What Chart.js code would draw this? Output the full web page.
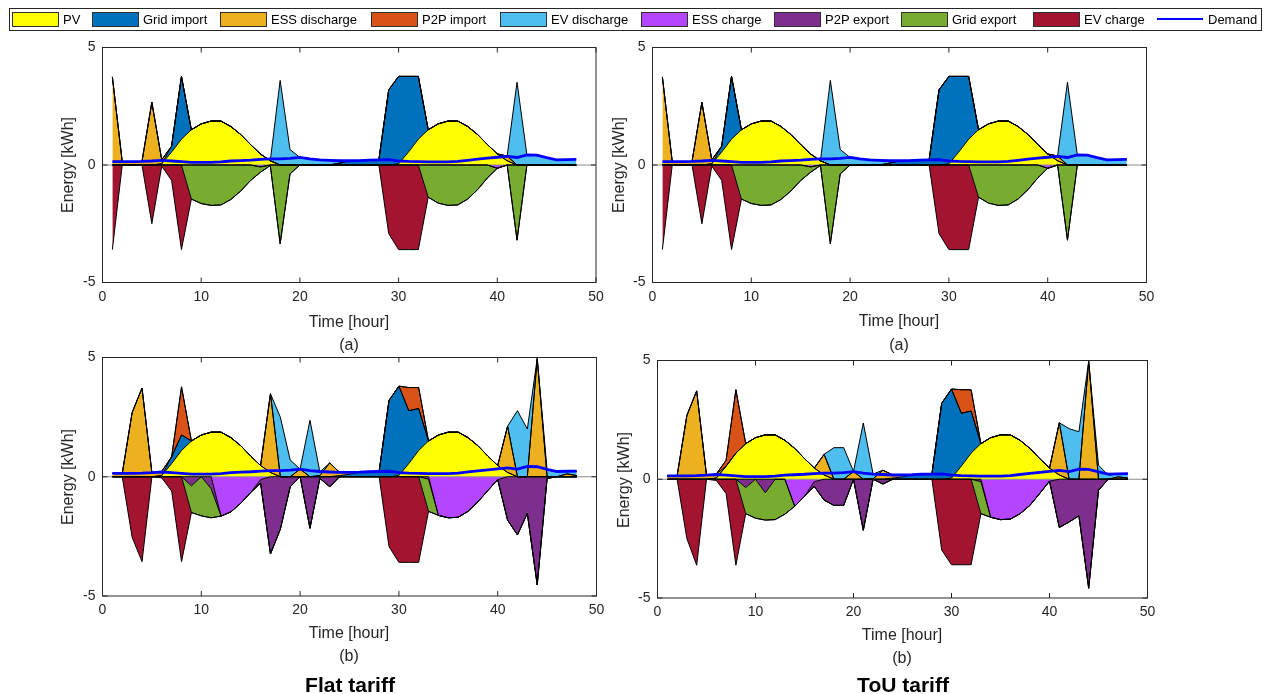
<!DOCTYPE html>
<html><head><meta charset="utf-8">
<script src="https://cdn.jsdelivr.net/npm/chart.js@4.4.1/dist/chart.umd.min.js"></script>
<style>
html,body{margin:0;padding:0;background:#fff}
body{width:1265px;height:694px;position:relative;overflow:hidden;font-family:"Liberation Sans",Arial,sans-serif;color:#262626}
canvas{position:absolute;left:0;top:0}
.t{position:absolute;white-space:nowrap;transform:translate(-50%,-50%);line-height:1}
.lg{position:absolute;left:9px;top:8px;width:1251px;height:21px;border:1px solid #262626;background:#fff}
.lp{position:absolute;top:12px;width:45px;height:13px;border:1px solid #303030}
.ll{position:absolute;top:11px;width:46px;height:0;border-top:2px solid #0000ff}
.lt{position:absolute;top:12px;font-size:13px;line-height:15px;color:#000}
</style></head><body>
<div class="lg"></div>
<canvas id="c0" width="1265" height="694"></canvas>
<canvas id="c1" width="1265" height="694"></canvas>
<canvas id="c2" width="1265" height="694"></canvas>
<canvas id="c3" width="1265" height="694"></canvas>
<script>
// ---------- DATA ----------
const hours = [1,2,3,4,5,6,7,8,9,10,11,12,13,14,15,16,17,18,19,20,21,22,23,24,25,26,27,28,29,30,31,32,33,34,35,36,37,38,39,40,41,42,43,44,45,46,47,48];
const xTicks = [0,10,20,30,40,50];
const yTicks = [-5,0,5];

const seriesNames = ['PV','Grid import','ESS discharge','P2P import','EV discharge','ESS charge','P2P export','Grid export','EV charge'];
const seriesColors = ['#ffff00','#0072bd','#edb120','#d95319','#4dbeee','#b446ff','#7e2f8e','#77ac30','#a2142f'];

const pv = [0,0,0,0,0,0.05,0.55,1.1,1.5,1.75,1.87,1.87, 1.64,1.3,0.87,0.47,0.18,0,0,0,0,0,0,0, 0,0,0,0,0,0.05,0.55,1.1,1.5,1.75,1.87,1.87, 1.64,1.3,0.87,0.47,0.18,0,0,0,0,0,0,0];
const demand = [0.14,0.14,0.14,0.15,0.17,0.2,0.17,0.14,0.11,0.11,0.11,0.13, 0.17,0.19,0.21,0.24,0.26,0.26,0.28,0.32,0.26,0.22,0.2,0.18, 0.18,0.19,0.21,0.22,0.23,0.17,0.15,0.14,0.13,0.13,0.13,0.15, 0.2,0.25,0.29,0.33,0.37,0.32,0.43,0.42,0.31,0.22,0.23,0.24];

// (a) case (both tariffs)
const gridImportA = [0,0,0,0,0,0,0.25,2.67,0,0,0,0, 0,0,0,0,0,0,0,0,0,0,0,0.08, 0.18,0.19,0.21,0.22,3.2,3.72,3.22,2.67,0,0,0,0, 0,0,0,0,0,0,0,0,0,0,0,0];
const essDischargeA = [3.75,0.14,0.14,0.15,2.67,0.17,0,0,0,0,0,0, 0,0,0,0,0,0,0,0,0,0,0,0, 0,0,0,0,0,0,0,0,0,0,0,0, 0,0,0,0,0.2,0,0,0,0,0,0,0];
const p2pImportA = [0,0,0,0,0,0,0,0,0,0,0,0, 0,0,0,0,0,0,0,0,0,0,0,0, 0,0,0,0,0,0,0,0,0,0,0,0, 0,0,0,0,0,0,0,0,0,0,0,0];
const evDischargeA = [0,0,0,0,0,0,0,0,0,0,0,0, 0,0,0,0,0,3.6,0.66,0.32,0.26,0.22,0.2,0.1, 0,0,0,0,0,0,0,0,0,0,0,0, 0,0,0,0,0,3.52,0.43,0.42,0.31,0.22,0.23,0.24];
const essChargeA = [0,0,0,0,0,0,0,0,0,0,0,0, 0,0,0,-0.08,0,0,0,0,0,0,0,0, 0,0,0,0,0,0,0,0,0,0,0,0, 0,0,0,-0.14,0,0,0,0,0,0,0,0];
const p2pExportA = [0,0,0,0,0,0,0,0,0,0,0,0, 0,0,0,0,0,0,0,0,0,0,0,0, 0,0,0,0,0,0,0,0,0,0,0,0, 0,0,0,0,0,0,0,0,0,0,0,0];
const gridExportA = [0,0,0,0,0,0,0,0,-1.45,-1.64,-1.72,-1.7, -1.47,-1.11,-0.66,-0.23,-0.02,-3.35,-0.38,0,0,0,0,0, 0,0,0,0,0,0,0,0,-1.37,-1.62,-1.72,-1.7, -1.45,-1.05,-0.55,0,0,-3.2,0,0,0,0,0,0];
const evChargeA = [-3.6,0,0,0,-2.5,-0.05,-0.65,-3.6,0,0,0,0, 0,0,0,0,0,0,0,0,0,0,0,0, 0,0,0,0,-2.92,-3.6,-3.6,-3.6,0,0,0,0, 0,0,0,0,0,0,0,0,0,0,0,0];

// (b) flat tariff
const gridImportBF = [0,0,0,0,0,0,0.29,0.65,0,0,0,0, 0,0,0,0,0,0,0,0,0,0,0,0.05, 0.1,0.19,0.21,0.22,3.2,3.75,2.22,1.76,0,0,0,0, 0,0,0,0,0,0,0,0,0,0,0,0];
const essDischargeBF = [0.14,0.14,2.69,3.72,0.17,0.17,0,0,0,0,0,0, 0,0,0,0,3.3,0,0,0.32,0,0.05,0.58,0.13, 0.08,0,0,0,0,0,0,0,0,0,0,0, 0,0,0,0,1.94,0,0,4.96,0,0,0.12,0.05];
const p2pImportBF = [0,0,0,0,0,0,0,2.02,0,0,0,0, 0,0,0,0,0,0,0,0,0,0,0,0, 0,0,0,0,0,0,0.97,0.88,0,0,0,0, 0,0,0,0,0,0,0,0,0,0,0,0];
const evDischargeBF = [0,0,0,0,0,0,0,0,0,0,0,0, 0,0,0,0,0,2.5,0.7,0,2.37,0.15,0,0, 0,0,0,0,0,0,0,0,0,0,0,0, 0,0,0,0,0,2.77,2.0,0,0.3,0.22,0.1,0.18];
const essChargeBF = [0,0,0,0,0,0,0,0,0,0,0,-1.65, -1.47,-1.11,-0.66,-0.12,0,0,0,0,0,0,0,0, 0,0,0,0,0,0,0,0,0,-1.62,-1.72,-1.7, -1.45,-1.05,-0.58,-0.12,0,0,0,0,0,0,0,0];
const p2pExportBF = [0,0,0,0,0,0,0,0,-0.38,0,-0.5,0, 0,0,0,-0.15,-3.24,-2.2,-0.42,0,-2.16,-0.07,-0.42,0, 0,0,0,0,0,0,0,0,-0.1,0,0,0, 0,0,0,0,-1.82,-2.44,-1.54,-4.54,-0.07,0,0,0];
const gridExportBF = [0,0,0,0,0,0,0,0,-1.12,-1.64,-1.22,0, 0,0,0,0,0,0,0,0,0,0,0,0, 0,0,0,0,0,0,0,0,-1.35,0,0,0, 0,0,0,0,0,0,0,0,0,0,0,0];
const evChargeBF = [0,0,-2.54,-3.56,0,-0.05,-0.6,-3.56,0,0,0,0, 0,0,0,0,0,0,0,0,0,0,0,0, 0,0,0,0,-2.93,-3.59,-3.59,-3.59,0,0,0,0, 0,0,0,0,0,0,0,0,0,0,0,0];

// (b) ToU tariff
const gridImportBT = [0,0,0,0,0,0,0,0,0,0,0,0, 0,0,0,0,0,0,0,0,0,0,0,0.05, 0.1,0.19,0.21,0.22,3.2,3.75,2.23,1.77,0,0,0,0, 0,0,0,0,0,0,0,0,0,0,0,0];
const essDischargeBT = [0.14,0.14,2.69,3.72,0.17,0.17,0,0,0,0,0,0, 0,0,0,0,0.87,0,0,0.33,0,0.02,0.38,0.13, 0.08,0,0,0,0,0,0,0,0,0,0,0, 0,0,0,0,2.2,0,0,4.96,0,0,0.1,0.05];
const p2pImportBT = [0,0,0,0,0,0,0.25,2.67,0,0,0,0, 0,0,0,0,0,0,0,0,0,0,0,0, 0,0,0,0,0,0,0.99,0.9,0,0,0,0, 0,0,0,0,0,0,0,0,0,0,0,0];
const evDischargeBT = [0,0,0,0,0,0,0,0,0,0,0,0, 0,0,0,0,0,1.33,1.33,0,2.37,0.2,0,0, 0,0,0,0,0,0,0,0,0,0,0,0, 0,0,0,0,0,2.13,2.0,0,0.59,0.17,0.12,0.19];
const essChargeBT = [0,0,0,0,0,0,0,0,0,0,0,0, 0,-1.14,-0.72,-0.1,0,0,0,0,0,0,0,0, 0,0,0,0,0,0,0,0,0,-1.6,-1.7,-1.68, -1.45,-1.1,-0.6,-0.08,0,0,0,0,0,0,0,0];
const p2pExportBT = [0,0,0,0,0,0,0,0,-0.35,0,-0.57,0, 0,0,0,-0.2,-0.88,-1.1,-1.1,0,-2.15,0,-0.2,0, 0,0,0,0,0,0,0,0,-0.1,0,0,0, 0,0,0,0,-2.03,-1.8,-1.54,-4.59,-0.46,0,0,0];
const gridExportBT = [0,0,0,0,0,0,0,0,-1.1,-1.64,-1.15,-1.7, -1.47,0,0,0,0,0,0,0,0,0,0,0, 0,0,0,0,0,0,0,0,-1.35,0,0,0, 0,0,0,0,0,0,0,0,0,0,0,0];
const evChargeBT = [0,0,-2.5,-3.62,0,-0.05,-0.6,-3.62,0,0,0,0, 0,0,0,0,0,0,0,0,0,0,0,0, 0,0,0,0,-2.98,-3.6,-3.6,-3.6,0,0,0,0, 0,0,0,0,0,0,0,0,0,0,0,0];

// ---------- LAYOUT ----------
const YW = 40, XH = 30, PAGE_W = 1265, PAGE_H = 694;
const panels = [
  {canvas:'c0', area:{l:102.5,r:596,t:47.5,b:282.5},
   pos:[pv,gridImportA,essDischargeA,p2pImportA,evDischargeA], neg:[essChargeA,p2pExportA,gridExportA,evChargeA]},
  {canvas:'c1', area:{l:652.5,r:1146.5,t:47.5,b:282.5},
   pos:[pv,gridImportA,essDischargeA,p2pImportA,evDischargeA], neg:[essChargeA,p2pExportA,gridExportA,evChargeA]},
  {canvas:'c2', area:{l:102.5,r:596.5,t:357.5,b:596},
   pos:[pv,gridImportBF,essDischargeBF,p2pImportBF,evDischargeBF], neg:[essChargeBF,p2pExportBF,gridExportBF,evChargeBF]},
  {canvas:'c3', area:{l:657.5,r:1147.5,t:360.5,b:598},
   pos:[pv,gridImportBT,essDischargeBT,p2pImportBT,evDischargeBT], neg:[essChargeBT,p2pExportBT,gridExportBT,evChargeBT]}
];

function cumulative(list){
  const out=[]; let acc=hours.map(()=>0);
  list.forEach(arr=>{acc=acc.map((v,i)=>v+arr[i]); out.push(acc.slice());});
  return out;
}
const tickFont = {family:'"Liberation Sans", Arial, sans-serif', size:14};

const framePlugin = {
  id:'frame',
  beforeDatasetsDraw(chart){
    const {ctx} = chart, x = chart.scales.x, y = chart.scales.y;
    ctx.save();
    ctx.strokeStyle='#8c8c8c'; ctx.lineWidth=1;
    ctx.beginPath();
    const y0 = y.getPixelForValue(0);
    ctx.moveTo(x.getPixelForValue(0), y0); ctx.lineTo(x.getPixelForValue(50), y0);
    ctx.stroke(); ctx.restore();
  },
  afterDraw(chart){
    const {ctx, chartArea:a} = chart, x = chart.scales.x, y = chart.scales.y;
    ctx.save();
    ctx.strokeStyle='#262626'; ctx.lineWidth=1;
    ctx.strokeRect(a.left, a.top, a.right-a.left, a.bottom-a.top);
    ctx.beginPath();
    xTicks.forEach(v=>{const px=x.getPixelForValue(v);
      ctx.moveTo(px,a.bottom); ctx.lineTo(px,a.bottom-5);
      ctx.moveTo(px,a.top); ctx.lineTo(px,a.top+5);});
    yTicks.forEach(v=>{const py=y.getPixelForValue(v);
      ctx.moveTo(a.left,py); ctx.lineTo(a.left+5,py);
      ctx.moveTo(a.right,py); ctx.lineTo(a.right-5,py);});
    ctx.stroke(); ctx.restore();
  }
};

panels.forEach(p=>{
  const cp = cumulative(p.pos), cn = cumulative(p.neg);
  const datasets = [];
  cp.forEach((arr,k)=>datasets.push({
    label: seriesNames[k], data: hours.map((h,i)=>({x:h,y:arr[i]})),
    backgroundColor: seriesColors[k], borderColor:'#000', borderWidth:1,
    fill: k===0 ? 'origin' : '-1', pointRadius:0, tension:0
  }));
  cn.forEach((arr,k)=>datasets.push({
    label: seriesNames[5+k], data: hours.map((h,i)=>({x:h,y:arr[i]})),
    backgroundColor: seriesColors[5+k], borderColor:'#000', borderWidth:1,
    fill: k===0 ? 'origin' : '-1', pointRadius:0, tension:0
  }));
  datasets.push({label:'Demand', data: hours.map((h,i)=>({x:h,y:demand[i]})),
    borderColor:'#0000ff', borderWidth:2.8, fill:false, pointRadius:0, tension:0, order:-1});

  const a = p.area;
  new Chart(document.getElementById(p.canvas), {
    type:'line',
    data:{datasets},
    options:{
      responsive:false, animation:false, devicePixelRatio:1,
      layout:{padding:{left:a.l-YW, top:a.t, right:PAGE_W-a.r, bottom:PAGE_H-a.b-XH}},
      plugins:{legend:{display:false}, tooltip:{enabled:false}, filler:{drawTime:'beforeDatasetsDraw', propagate:false}},
      scales:{
        x:{type:'linear', min:0, max:50,
           afterBuildTicks:s=>{s.ticks = xTicks.map(v=>({value:v}));},
           ticks:{font:tickFont, color:'#262626', padding:6, maxRotation:0, autoSkip:false},
           grid:{display:false, drawTicks:false}, border:{display:false},
           afterFit:s=>{s.height=XH;}},
        y:{type:'linear', min:-5, max:5,
           afterBuildTicks:s=>{s.ticks = yTicks.map(v=>({value:v}));},
           ticks:{font:tickFont, color:'#262626', padding:7},
           grid:{display:false, drawTicks:false}, border:{display:false},
           afterFit:s=>{s.width=YW;}}
      }
    },
    plugins:[framePlugin]
  });
});

// ---------- TEXT ----------
function addText(txt,x,y,style){
  const d=document.createElement('div'); d.className='t'; d.textContent=txt;
  d.style.left=x+'px'; d.style.top=y+'px'; Object.assign(d.style, style||{});
  document.body.appendChild(d);
}
const axisStyle={fontSize:'16px'};
const rotStyle={fontSize:'16px', transform:'translate(-50%,-50%) rotate(-90deg)'};
addText('Energy [kWh]',68,165,rotStyle);
addText('Energy [kWh]',619,165,rotStyle);
addText('Energy [kWh]',68,477,rotStyle);
addText('Energy [kWh]',624,480,rotStyle);
addText('Time [hour]',349,322,axisStyle);
addText('Time [hour]',899,321,axisStyle);
addText('Time [hour]',349,633,axisStyle);
addText('Time [hour]',902,635,axisStyle);
addText('(a)',349,345,axisStyle);
addText('(a)',899,345,axisStyle);
addText('(b)',349,656,axisStyle);
addText('(b)',902,658,axisStyle);
addText('Flat tariff',350,684,{fontSize:'21px',fontWeight:'bold',color:'#000'});
addText('ToU tariff',903,684,{fontSize:'21px',fontWeight:'bold',color:'#000'});

// ---------- LEGEND ----------
const legendX = [12,92,220,371,500,641,774,901,1033,1157];
const legendLabels = seriesNames.concat(['Demand']);
legendLabels.forEach((name,i)=>{
  const x = legendX[i];
  const sw=document.createElement('div');
  if(i<9){ sw.className='lp'; sw.style.background=seriesColors[i]; }
  else { sw.className='ll'; sw.style.top='18px'; }
  sw.style.left=x+'px'; document.body.appendChild(sw);
  const t=document.createElement('div'); t.className='lt'; t.textContent=name;
  t.style.left=(x+51)+'px'; document.body.appendChild(t);
});
</script>
</body></html>
